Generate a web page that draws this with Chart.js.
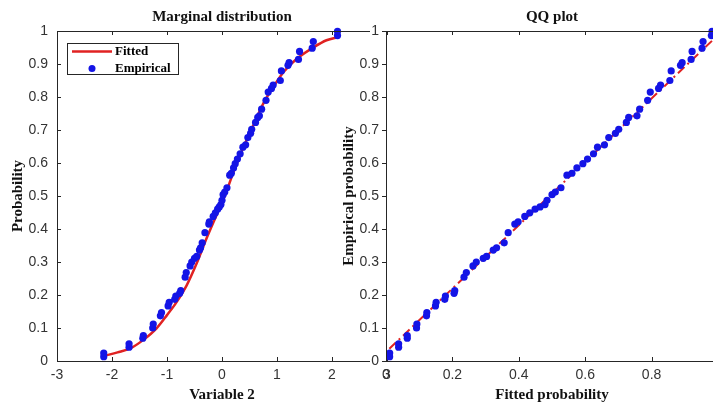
<!DOCTYPE html>
<html>
<head>
<meta charset="utf-8">
<script src="https://cdn.jsdelivr.net/npm/chart.js@4.4.0/dist/chart.umd.min.js"></script>
<style>
  html, body { margin: 0; padding: 0; background: #fff; overflow: hidden; }
  body { width: 713px; height: 405px; position: relative; }
  #left { position: absolute; left: 0; top: 0; width: 400px; height: 405px; }
  #right { position: absolute; left: 340px; top: 0; width: 390px; height: 405px; }
</style>
</head>
<body>
<div id="left"><canvas id="margChart"></canvas></div>
<div id="right"><canvas id="qqChart"></canvas></div>
<script>
// empirical probabilities (shared by both panels)
const empiricalP = [0.013, 0.024, 0.042, 0.052, 0.069, 0.077, 0.100, 0.112, 0.137, 0.147, 0.167, 0.178,
  0.187, 0.197, 0.205, 0.213, 0.254, 0.268, 0.288, 0.300, 0.311, 0.317, 0.336, 0.343, 0.358, 0.389,
  0.415, 0.422, 0.438, 0.449, 0.460, 0.467, 0.474, 0.487, 0.504, 0.512, 0.525, 0.563, 0.569, 0.585,
  0.598, 0.612, 0.628, 0.648, 0.655, 0.677, 0.690, 0.702, 0.723, 0.738, 0.743, 0.763, 0.790, 0.815,
  0.826, 0.836, 0.850, 0.879, 0.896, 0.904, 0.914, 0.938, 0.948, 0.968, 0.986, 0.999];
// observed values of variable 2
const variable2 = [-2.15, -2.15, -1.69, -1.69, -1.44, -1.43, -1.26, -1.25, -1.12, -1.10, -0.98, -0.96,
  -0.86, -0.84, -0.77, -0.75, -0.67, -0.65, -0.58, -0.55, -0.50, -0.46, -0.41, -0.39, -0.36, -0.31,
  -0.24, -0.23, -0.16, -0.12, -0.08, -0.05, -0.02, 0.00, 0.02, 0.05, 0.09, 0.14, 0.17, 0.21,
  0.24, 0.28, 0.33, 0.38, 0.43, 0.47, 0.52, 0.54, 0.61, 0.65, 0.68, 0.72, 0.80, 0.84,
  0.90, 0.93, 1.06, 1.08, 1.20, 1.22, 1.39, 1.41, 1.64, 1.66, 2.10, 2.10];
// fitted probabilities for the QQ plot
const fittedQ = [0.011, 0.011, 0.038, 0.038, 0.064, 0.064, 0.092, 0.093, 0.122, 0.123, 0.149, 0.151,
  0.177, 0.179, 0.205, 0.207, 0.235, 0.242, 0.262, 0.272, 0.293, 0.303, 0.323, 0.333, 0.356, 0.368,
  0.388, 0.398, 0.418, 0.433, 0.449, 0.464, 0.479, 0.485, 0.500, 0.510, 0.527, 0.545, 0.560, 0.575,
  0.593, 0.607, 0.625, 0.637, 0.658, 0.671, 0.691, 0.701, 0.724, 0.731, 0.756, 0.764, 0.788, 0.796,
  0.821, 0.827, 0.855, 0.859, 0.887, 0.892, 0.919, 0.922, 0.952, 0.955, 0.980, 0.982];
// fitted CDF curve
const fitX = [-2.13, -1.9, -1.67, -1.43, -1.19, -1.0, -0.82, -0.64, -0.46, -0.28, -0.1, 0.05,
  0.21, 0.39, 0.57, 0.75, 0.93, 1.12, 1.36, 1.66, 1.9, 2.12];
const fitY = [0.016, 0.026, 0.038, 0.064, 0.099, 0.139, 0.18, 0.23, 0.296, 0.372, 0.442, 0.5,
  0.573, 0.648, 0.714, 0.78, 0.83, 0.876, 0.916, 0.95, 0.972, 0.982];
// QQ reference line
const refX = [0.01, 0.99];
const refY = [0.037, 0.978];

const probTicks = [0, 0.1, 0.2, 0.3, 0.4, 0.5, 0.6, 0.7, 0.8, 0.9, 1];
const varTicks = [-3, -2, -1, 0, 1, 2, 3];
const qTicks = [0, 0.2, 0.4, 0.6, 0.8, 1];

const SERIF = '"Liberation Serif", "Times New Roman", serif';
const SANS = '"Liberation Sans", Arial, sans-serif';
const RED = '#e02222';
const BLUE = '#1414e6';

function pts(xs, ys) {
  return xs.map((x, i) => ({ x: x, y: ys[i] }));
}

// box + inward ticks like matlab
const axesBox = {
  id: 'axesBox',
  afterDraw(chart, args, opts) {
    const { ctx, chartArea: a, scales: { x, y } } = chart;
    ctx.save();
    ctx.strokeStyle = '#262626';
    ctx.lineWidth = 1;
    ctx.beginPath();
    ctx.moveTo(a.left + 0.5, a.top);
    ctx.lineTo(a.left + 0.5, a.bottom + 0.5);
    ctx.lineTo(a.right, a.bottom + 0.5);
    ctx.moveTo(a.left, a.top + 0.5);
    ctx.lineTo(a.right, a.top + 0.5);
    x.ticks.forEach(t => {
      const px = Math.round(x.getPixelForValue(t.value)) + 0.5;
      ctx.moveTo(px, a.bottom);
      ctx.lineTo(px, a.bottom - 4);
      ctx.moveTo(px, a.top);
      ctx.lineTo(px, a.top + 4);
    });
    y.ticks.forEach(t => {
      const py = Math.round(y.getPixelForValue(t.value)) + 0.5;
      ctx.moveTo(a.left, py);
      ctx.lineTo(a.left + opts.yTick, py);
    });
    ctx.stroke();
    ctx.restore();
  }
};

const boxLegend = {
  id: 'boxLegend',
  afterDraw(chart) {
    const { ctx, chartArea: a } = chart;
    const x0 = a.left + 10, y0 = a.top + 12, w = 111, h = 31;
    ctx.save();
    ctx.fillStyle = '#fff';
    ctx.fillRect(x0, y0, w, h);
    ctx.strokeStyle = '#262626';
    ctx.lineWidth = 1;
    ctx.strokeRect(x0 + 0.5, y0 + 0.5, w, h);
    ctx.font = 'bold 13px ' + SERIF;
    ctx.textBaseline = 'middle';
    chart.data.datasets.forEach((ds, i) => {
      const cy = y0 + 8.5 + i * 17;
      if (ds.showLine) {
        ctx.strokeStyle = ds.borderColor;
        ctx.lineWidth = 2.5;
        ctx.beginPath();
        ctx.moveTo(x0 + 5, cy);
        ctx.lineTo(x0 + 45, cy);
        ctx.stroke();
      } else {
        ctx.fillStyle = ds.backgroundColor;
        ctx.beginPath();
        ctx.arc(x0 + 25, cy, 3.5, 0, Math.PI * 2);
        ctx.fill();
      }
      ctx.fillStyle = '#000';
      ctx.fillText(ds.label, x0 + 48, cy + 0.5);
    });
    ctx.restore();
  }
};

// right panel covers the left one's axes just left of its y axis
const maskLeft = {
  id: 'maskLeft',
  beforeDraw(chart) {
    const { ctx, chartArea: a } = chart;
    ctx.save();
    ctx.fillStyle = '#fff';
    ctx.fillRect(a.left - 16, a.top - 2, 16, a.bottom - a.top + 3);
    ctx.restore();
  }
};

function axisOpts(min, max, tickList, title, titlePad, tickPad, fitSize, horizontal) {
  return {
    type: 'linear',
    min: min,
    max: max,
    afterBuildTicks: s => { s.ticks = tickList.map(v => ({ value: v })); },
    afterFit: s => { if (horizontal) s.height = fitSize; else s.width = fitSize; },
    grid: { display: false, drawTicks: false },
    border: { display: false },
    ticks: {
      color: '#333',
      padding: tickPad,
      maxRotation: 0,
      font: { family: SANS, size: 14 },
      callback: v => String(+v.toFixed(1))
    },
    title: {
      display: true,
      text: title,
      color: '#111',
      font: { family: SERIF, size: 15, weight: 'bold' },
      padding: titlePad
    }
  };
}

function titleOpts(text) {
  return {
    display: true,
    text: text,
    fullSize: false,
    color: '#111',
    font: { family: SERIF, size: 15, weight: 'bold' },
    padding: { top: 8, bottom: 5 }
  };
}

new Chart(document.getElementById('margChart'), {
  type: 'scatter',
  data: {
    datasets: [{
      label: 'Fitted',
      data: pts(fitX, fitY),
      showLine: true,
      borderColor: RED,
      borderWidth: 2.5,
      pointRadius: 0,
      cubicInterpolationMode: 'monotone',
      order: 1
    }, {
      label: 'Empirical',
      data: pts(variable2, empiricalP),
      backgroundColor: BLUE,
      borderWidth: 0,
      pointRadius: 3.6,
      clip: false,
      order: 0
    }]
  },
  options: {
    responsive: true,
    maintainAspectRatio: false,
    animation: false,
    layout: { padding: { left: 0, right: 13, top: 0, bottom: 0 } },
    scales: {
      x: axisOpts(-3, 3, varTicks, 'Variable 2', { top: 0, bottom: 1 }, 6, 44, true),
      y: axisOpts(0, 1, probTicks, 'Probability', { top: 9, bottom: 0 }, 9, 57, false)
    },
    plugins: {
      legend: { display: false },
      tooltip: { enabled: false },
      title: titleOpts('Marginal distribution'),
      axesBox: { yTick: 4 }
    }
  },
  plugins: [axesBox, boxLegend]
});

new Chart(document.getElementById('qqChart'), {
  type: 'scatter',
  data: {
    datasets: [{
      label: 'Reference',
      data: pts(refX, refY),
      showLine: true,
      borderColor: RED,
      borderWidth: 2,
      borderDash: [9, 4, 2, 4],
      pointRadius: 0,
      order: 1
    }, {
      label: 'Empirical',
      data: pts(fittedQ, empiricalP),
      backgroundColor: BLUE,
      borderWidth: 0,
      pointRadius: 3.6,
      clip: false,
      order: 0
    }]
  },
  options: {
    responsive: true,
    maintainAspectRatio: false,
    animation: false,
    layout: { padding: { left: 0, right: 12, top: 0, bottom: 0 } },
    scales: {
      x: axisOpts(0, 1, qTicks, 'Fitted probability', { top: 0, bottom: 1 }, 6, 44, true),
      y: axisOpts(0, 1, probTicks, 'Empirical probability', { top: 0, bottom: 0 }, 7, 46, false)
    },
    plugins: {
      legend: { display: false },
      tooltip: { enabled: false },
      title: titleOpts('QQ plot'),
      axesBox: { yTick: -4 }
    }
  },
  plugins: [maskLeft, axesBox]
});
</script>
</body>
</html>
